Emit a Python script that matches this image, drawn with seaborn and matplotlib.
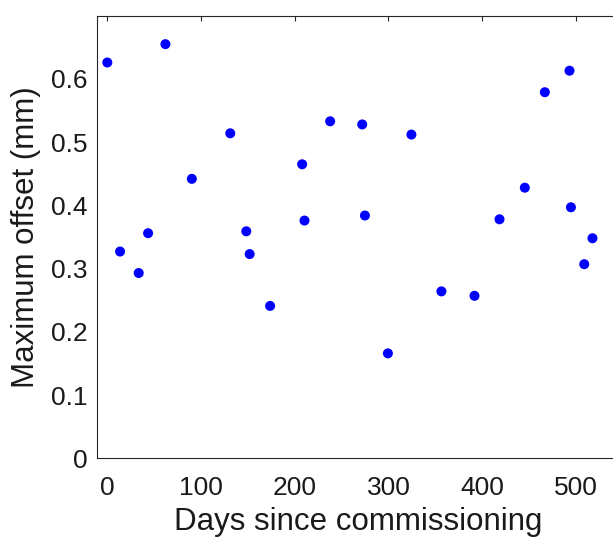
import matplotlib
matplotlib.use("Agg")
import matplotlib.pyplot as plt
import seaborn as sns
import pandas as pd

days = [0, 13.6, 33.5, 43.5, 62, 90.2, 131.2, 148.3, 151.9, 173.7, 207.9, 210.4,
        237.8, 272, 274.9, 299.4, 324.5, 356.5, 391.8, 418.5, 445.5, 466.9, 493.2,
        494.7, 508.9, 517.7]
offset = [0.626, 0.327, 0.293, 0.356, 0.655, 0.442, 0.514, 0.359, 0.323, 0.241,
          0.465, 0.376, 0.533, 0.528, 0.384, 0.166, 0.512, 0.264, 0.257, 0.378,
          0.428, 0.579, 0.613, 0.397, 0.307, 0.348]
xticks = [0, 100, 200, 300, 400, 500]
yticks = [0, 0.1, 0.2, 0.3, 0.4, 0.5, 0.6]

sns.set_theme(style="white")
plt.rcParams['font.family'] = ['Liberation Sans', 'DejaVu Sans']

df = pd.DataFrame({"days": days, "offset": offset})

fig = plt.figure(figsize=(6.13, 5.40), dpi=100)
ax = fig.add_axes([97/613, (540-458.3)/540, (619-97)/613, (458.3-15.7)/540])
sns.scatterplot(data=df, x="days", y="offset", ax=ax, color=(0, 0, 1),
                s=52, edgecolor="none", linewidth=0, legend=False)
ax.set_xlim(-11, 546)
ax.set_ylim(0, 0.7)
ax.set_xticks(xticks)
ax.set_xticklabels([str(t) for t in xticks])
ax.set_yticks(yticks)
ax.set_yticklabels(["0" if t == 0 else f"{t:.1f}" for t in yticks])
for s in ax.spines.values():
    s.set_color("#262626")
    s.set_linewidth(0.8)
ax.tick_params(direction="in", length=3.6, width=0.8, color="#262626",
               top=True, right=True, labelsize=19, labelcolor="#1a1a1a")
ax.tick_params(axis="x", pad=13)
ax.tick_params(axis="y", pad=7)
ax.set_xlabel("Days since commissioning", fontsize=22.5, color="#1a1a1a", labelpad=5)
ax.set_ylabel("Maximum offset (mm)", fontsize=22.5, color="#1a1a1a", labelpad=7)
fig.savefig("out.png", dpi=100)
